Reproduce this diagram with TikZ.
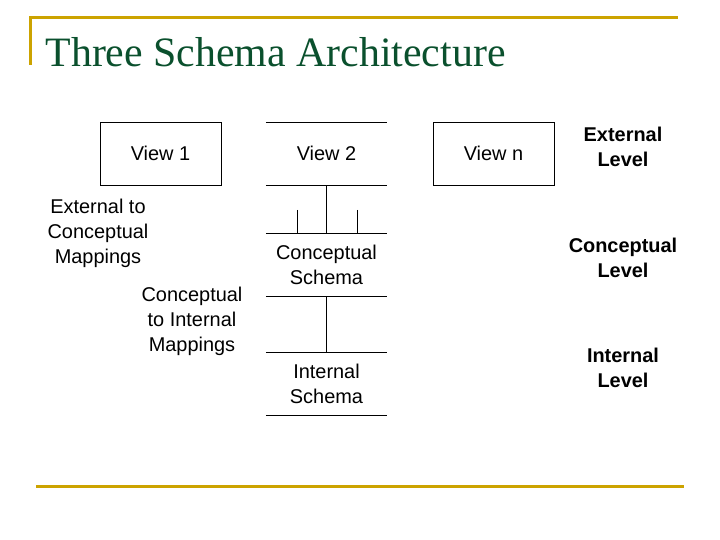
\documentclass[tikz,border=0pt]{standalone}
\usepackage{fontspec}
\setmainfont{Liberation Sans}
\newfontfamily\titlefont{Liberation Serif}
\definecolor{gold}{RGB}{204,163,0}
\definecolor{titlegreen}{RGB}{10,80,45}
\tikzset{
    levelbox/.style={minimum width=121bp,minimum height=63bp,inner sep=0pt,align=center,font=\fontsize{20}{25}\selectfont},
    label/.style={align=center,font=\fontsize{20}{25}\selectfont},
    levellabel/.style={align=center,font=\bfseries\fontsize{20}{25}\selectfont}
}
\begin{document}
\begin{tikzpicture}[x=1bp,y=-1bp]
                \useasboundingbox (0,0) rectangle (720,540);
                % frame
                \draw[gold,line width=3bp] (30,65) -- (30,18) -- (678,18);
                \draw[gold,line width=3bp] (36,486) -- (684,486);
                \node[anchor=west,text=titlegreen,font=\titlefont\fontsize{42}{46}\selectfont] (title) at (42,52) {Three Schema Architecture};
                % views
                \node[levelbox,draw] (v1) at (160.5,153.5) {View 1};
                \node[levelbox] (v2) at (326.5,153.5) {View 2};
                \node[levelbox,draw] (vn) at (493.5,153.5) {View n};
                \node[levelbox] (cs) at (326.5,264.5) {Conceptual\\Schema};
                \node[levelbox] (is) at (326.5,383.5) {Internal\\Schema};
                \foreach \n in {v2,cs,is} {
                    \draw (\n.north west) -- (\n.north east);
                    \draw (\n.south west) -- (\n.south east);
                }
                \draw (v2.south) -- (cs.north);
                \draw (cs.south) -- (is.north);
                \coordinate (t1) at (297.5,210);
                \coordinate (t2) at (357.5,210);
                \draw (t1) -- (t1 |- cs.north);
                \draw (t2) -- (t2 |- cs.north);
                % mappings
                \node[label] (ec) at (98,233) {External to\\Conceptual\\Mappings};
                \node[label] (ci) at (192,321) {Conceptual\\to Internal\\Mappings};
                % levels
                \node[levellabel] (el) at (623,147) {External\\Level};
                \node[levellabel] (cl) at (623,258) {Conceptual\\Level};
                \node[levellabel] (il) at (623,368) {Internal\\Level};
            \end{tikzpicture}
\end{document}
